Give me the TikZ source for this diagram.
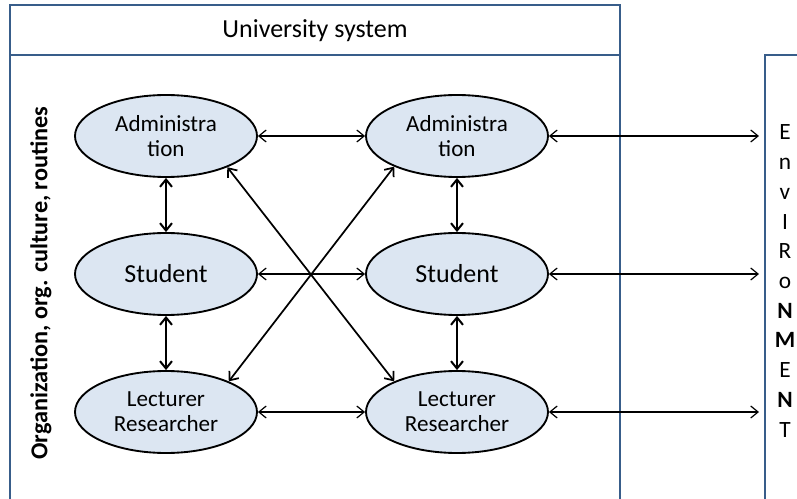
\documentclass[tikz,border=0pt]{standalone}
\usepackage{fontspec}
\setmainfont{Carlito}
\usetikzlibrary{shapes.geometric,arrows.meta}
\definecolor{sysblue}{RGB}{56,93,138}
\definecolor{actorfill}{RGB}{220,230,242}

\begin{document}
\begin{tikzpicture}[x=0.75pt,y=-0.75pt,
  actor/.style={ellipse,draw,line width=1.4pt,fill=actorfill,minimum width=136.5pt,minimum height=61.5pt,inner sep=0pt,align=center,font=\fontsize{17.3}{19}\selectfont},
  link/.style={{Straight Barb[length=5.5pt,width=9pt]}-{Straight Barb[length=5.5pt,width=9pt]},line width=0.9pt},
  vlink/.style={link,line width=1.5pt},
  xlink/.style={link,line width=1.3pt},
  frame/.style={draw=sysblue,line width=2.2pt}]
\useasboundingbox (0,0) rectangle (797,499);
\clip (0,0) rectangle (797,499);
\draw[frame] (10,510) -- (10,5) -- (620,5) -- (620,510);
\draw[frame] (10,55) -- (620,55);
\draw[frame] (765,510) -- (765,55) -- (810,55);
\node[font=\fontsize{19.5}{22}\selectfont] (title) at (315,31) {University system};
\node[rotate=90,font=\bfseries\fontsize{18.2}{21}\selectfont] (org) at (41,283) {Organization, org. culture, routines};
\node[align=center,font=\fontsize{17.5}{22.3}\selectfont] (env) at (785,281) {E\\n\\v\\I\\R\\o\\\textbf{N}\\\textbf{M}\\E\\\textbf{N}\\T};
\node[actor] (la) at (166,136) {Administra\\tion};
\node[actor,font=\fontsize{19.5}{22}\selectfont] (ls) at (166,274) {Student};
\node[actor] (ll) at (166,412) {Lecturer\\Researcher};
\node[actor] (ra) at (457,136) {Administra\\tion};
\node[actor,font=\fontsize{19.5}{22}\selectfont] (rs) at (457,274) {Student};
\node[actor] (rl) at (457,412) {Lecturer\\Researcher};
\coordinate (ea) at (759,136);
\coordinate (es) at (759,274);
\coordinate (el) at (759,412);
\draw[vlink] (la) -- (ls);
\draw[vlink] (ls) -- (ll);
\draw[vlink] (ra) -- (rs);
\draw[vlink] (rs) -- (rl);
\draw[link] (la) -- (ra);
\draw[link] (ls) -- (rs);
\draw[link] (ll) -- (rl);
\draw[xlink] (la.-27) -- (rl.154);
\draw[xlink] (ra.-154) -- (ll.26);
\draw[link] (ra) -- (ea);
\draw[link] (rs) -- (es);
\draw[link] (rl) -- (el);
\end{tikzpicture}
\end{document}
